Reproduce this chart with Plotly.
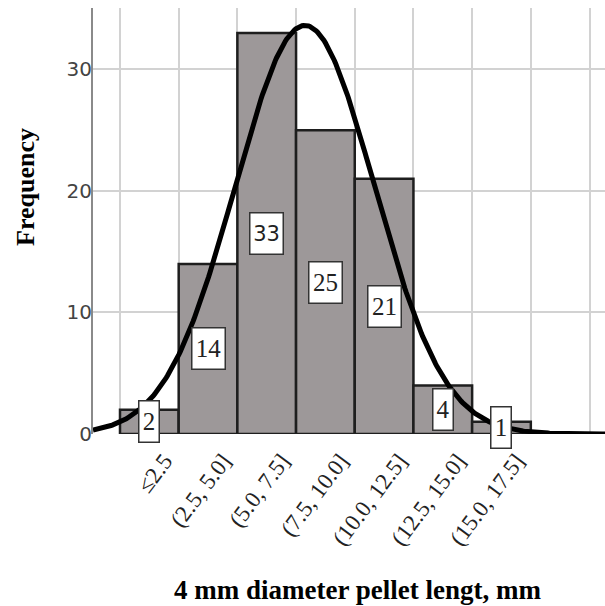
import numpy as np
import plotly.graph_objects as go

# ---- data ----
categories = ["≤2.5", "(2.5, 5.0]", "(5.0, 7.5]", "(7.5, 10.0]",
              "(10.0, 12.5]", "(12.5, 15.0]", "(15.0, 17.5]"]
bin_left = [0.0, 2.5, 5.0, 7.5, 10.0, 12.5, 15.0]
bin_width = 2.5
counts = [2, 14, 33, 25, 21, 4, 1]
y_ticks = [0, 10, 20, 30]

centers = [b + bin_width / 2 for b in bin_left]
n_total = sum(counts)
mean = sum(c * m for c, m in zip(counts, centers)) / n_total
sd = (sum(c * (m - mean) ** 2 for c, m in zip(counts, centers)) / n_total) ** 0.5

x_min, x_max = -1.15, 20.66
y_max = 35.06

xs = np.linspace(x_min, x_max, 400)
curve = n_total * bin_width / (sd * np.sqrt(2 * np.pi)) * np.exp(-0.5 * ((xs - mean) / sd) ** 2)

fig = go.Figure()
fig.add_trace(go.Bar(
    x=centers, y=counts, width=bin_width,
    marker=dict(color="#9d9899", line=dict(color="#1e1e1e", width=2.5)),
    hoverinfo="skip", showlegend=False,
))
fig.add_trace(go.Scatter(
    x=xs, y=curve, mode="lines",
    line=dict(color="black", width=5),
    hoverinfo="skip", showlegend=False,
))

annotations = []
for cx, c in zip(centers, counts):
    fam = "DejaVu Sans" if c == 33 else "Liberation Serif"
    annotations.append(dict(
        x=cx, y=c / 2, xref="x", yref="y", text=str(c), showarrow=False,
        font=dict(family=fam, size=25 if c != 33 else 21, color="#222"),
        bgcolor="white", bordercolor="#333", borderwidth=1.5,
        width=28 if c >= 10 else 15, height=36, borderpad=2,
    ))

W, H = 605, 606
L, R, T, B = 93, 0, 8, 172
pw, ph = W - L - R, H - T - B


def px_to_paper(px, py):
    return (px - L) / pw, (H - B - py) / ph


fx, fy = px_to_paper(26, 187)
annotations.append(dict(
    x=fx, y=fy, xref="paper", yref="paper", text="<b>Frequency</b>",
    xanchor="center", yanchor="middle",
    showarrow=False, textangle=-90,
    font=dict(family="Liberation Serif", size=26, color="black"),
))
tx, ty = px_to_paper(357, 590)
annotations.append(dict(
    x=tx, y=ty, xref="paper", yref="paper",
    xanchor="center", yanchor="middle",
    text="<b>4 mm diameter pellet lengt, mm</b>", showarrow=False,
    font=dict(family="Liberation Serif", size=27, color="black"),
))

fig.update_layout(
    width=W, height=H,
    margin=dict(l=L, r=R, t=T, b=B, pad=0),
    plot_bgcolor="white", paper_bgcolor="white",
    bargap=0,
    annotations=annotations,
    xaxis=dict(
        range=[x_min, x_max],
        tickmode="array", tickvals=centers, ticktext=categories,
        tickangle=-53,
        tickfont=dict(family="Liberation Serif", size=23, color="#222"),
        showgrid=False, zeroline=False, showline=False, ticks="",
        ticklabelshift=15, ticklabelstandoff=8,
        automargin=False,
        minor=dict(tickmode="linear", tick0=0, dtick=bin_width, showgrid=True,
                   gridcolor="#d2d2d2", gridwidth=2, ticks=""),
    ),
    yaxis=dict(
        range=[0, y_max],
        tickmode="array", tickvals=y_ticks,
        tickfont=dict(family="DejaVu Sans", size=20, color="#444"),
        showgrid=True, gridcolor="#d2d2d2", gridwidth=2,
        zeroline=False, showline=True, linecolor="#8a8a8a", linewidth=2,
        ticks="", ticklabelstandoff=-5, automargin=False,
    ),
)

fig.write_html("out.html", config={"staticPlot": True},
               post_script="document.body.style.margin='0';")
